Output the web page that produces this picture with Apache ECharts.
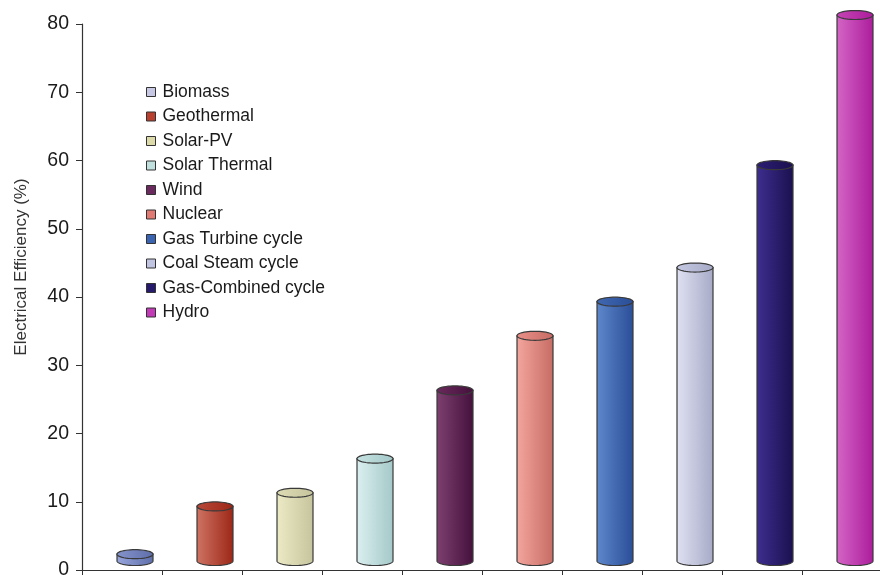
<!DOCTYPE html>
<html>
<head>
<meta charset="utf-8">
<style>
  html, body { margin: 0; padding: 0; background: #fff; }
  #chart { width: 880px; height: 575px; }
</style>
<script src="https://cdn.jsdelivr.net/npm/echarts@6/dist/echarts.min.js"></script>
</head>
<body>
<div id="chart"></div>
<script>
// Generation technologies and their electrical efficiency (%)
const categories = ['Biomass', 'Geothermal', 'Solar-PV', 'Solar Thermal', 'Wind', 'Nuclear',
  'Gas Turbine cycle', 'Coal Steam cycle', 'Gas-Combined cycle', 'Hydro'];
const efficiency = [1, 8, 10, 15, 25, 33, 38, 43, 58, 80];
const yTicks = { min: 0, max: 80, step: 10 };

// Cylinder shading: [light side, dark side, top cap, legend swatch]
const palette = [
  ['#98a6dc', '#5e6eaa', '#8694cc', '#c6c8e4'],
  ['#cf7464', '#9c2616', '#b8493a', '#b9402e'],
  ['#ecebc6', '#c6c49c', '#dedcb4', '#dcdaa8'],
  ['#dcf0f0', '#a4c8c8', '#c6e2e2', '#bfe0dc'],
  ['#7e4070', '#44103c', '#6a2a5c', '#6a2a5e'],
  ['#f4a69e', '#c66c64', '#ea9088', '#e27a74'],
  ['#5e88cc', '#2a4e98', '#4068b0', '#3a64b0'],
  ['#e0e2f2', '#a6aac6', '#c6c9e2', '#c2c5e2'],
  ['#3e2e90', '#1a104e', '#2c1e74', '#261a6c'],
  ['#d466c6', '#ac1c9c', '#c444b4', '#c23ab6']
];

// Projection of the cylinders: depth shift to the right and upward
const DEPTH_X = 13, DEPTH_Y = -9, BAR_W = 36, CAP_RY = 4.5;

function ellipsePoints(cx, cy, rx, ry, a0, a1, n) {
  const pts = [];
  for (let k = 0; k <= n; k++) {
    const a = a0 + (a1 - a0) * k / n;
    pts.push([cx + rx * Math.cos(a), cy + ry * Math.sin(a)]);
  }
  return pts;
}

function renderCylinder(params, api) {
  const idx = api.value(0);
  const top = api.coord([idx, api.value(1)]);
  const base = api.coord([idx, 0]);
  const cx = top[0] + DEPTH_X;
  const ty = top[1] + DEPTH_Y;
  const by = base[1] + DEPTH_Y;
  const rx = BAR_W / 2;
  const c = palette[params.seriesIndex];
  const stroke = '#3a3a3a';
  // body: straight sides closed by the lower half of the base ellipse
  const body = [[cx - rx, ty]].concat(ellipsePoints(cx, by, rx, CAP_RY, Math.PI, 0, 30)).concat([[cx + rx, ty]]);
  return {
    type: 'group',
    children: [
      {
        type: 'polygon',
        shape: { points: body },
        style: {
          fill: new echarts.graphic.LinearGradient(0, 0, 1, 0, [
            { offset: 0, color: c[0] },
            { offset: 1, color: c[1] }
          ]),
          stroke: stroke,
          lineWidth: 1.2
        }
      },
      {
        type: 'polygon',
        shape: { points: ellipsePoints(cx, ty, rx, CAP_RY, 0, Math.PI * 2, 48) },
        style: {
          fill: new echarts.graphic.LinearGradient(0, 0, 1, 0, [
            { offset: 0, color: c[2] },
            { offset: 1, color: c[1] }
          ]),
          stroke: stroke,
          lineWidth: 1.2
        }
      }
    ]
  };
}

const series = categories.map((name, i) => ({
  name: name,
  type: 'custom',
  renderItem: renderCylinder,
  encode: { x: 0, y: 1 },
  data: [[i, efficiency[i]]],
  itemStyle: { color: palette[i][3] }
}));

const chart = echarts.init(document.getElementById('chart'), null, { renderer: 'canvas' });
chart.setOption({
  animation: false,
  textStyle: { fontFamily: 'Liberation Sans, Arial, sans-serif' },
  grid: { left: 82, top: 24, width: 800, height: 546, containLabel: false, outerBoundsMode: 'none' },
  legend: {
    orient: 'vertical',
    left: 141,
    top: 78,
    itemWidth: 9,
    itemHeight: 9,
    itemGap: 6.5,
    icon: 'rect',
    textStyle: { fontSize: 17.5, color: '#1a1a1a', padding: [0, 0, 0, 2] },
    itemStyle: { borderColor: '#333', borderWidth: 1 },
    data: categories.map((name, i) => ({ name: name, itemStyle: { color: palette[i][3] } }))
  },
  xAxis: {
    type: 'category',
    data: categories,
    boundaryGap: true,
    axisLine: { lineStyle: { color: '#333', width: 1.2 } },
    axisTick: { show: true, interval: 0, length: 6, lineStyle: { color: '#333' } },
    axisLabel: { show: false },
    splitLine: { show: false }
  },
  yAxis: {
    type: 'value',
    min: yTicks.min,
    max: yTicks.max,
    interval: yTicks.step,
    name: 'Electrical Efficiency (%)',
    nameLocation: 'middle',
    nameGap: 52,
    nameTextStyle: { fontSize: 17, color: '#333', padding: [0, 0, 0, 60] },
    axisLine: { show: true, lineStyle: { color: '#333', width: 1.2 } },
    axisTick: { show: true, length: 6, lineStyle: { color: '#333' } },
    axisLabel: { fontSize: 19.5, color: '#1a1a1a', margin: 13 },
    splitLine: { show: false }
  },
  series: series
});
</script>
</body>
</html>
